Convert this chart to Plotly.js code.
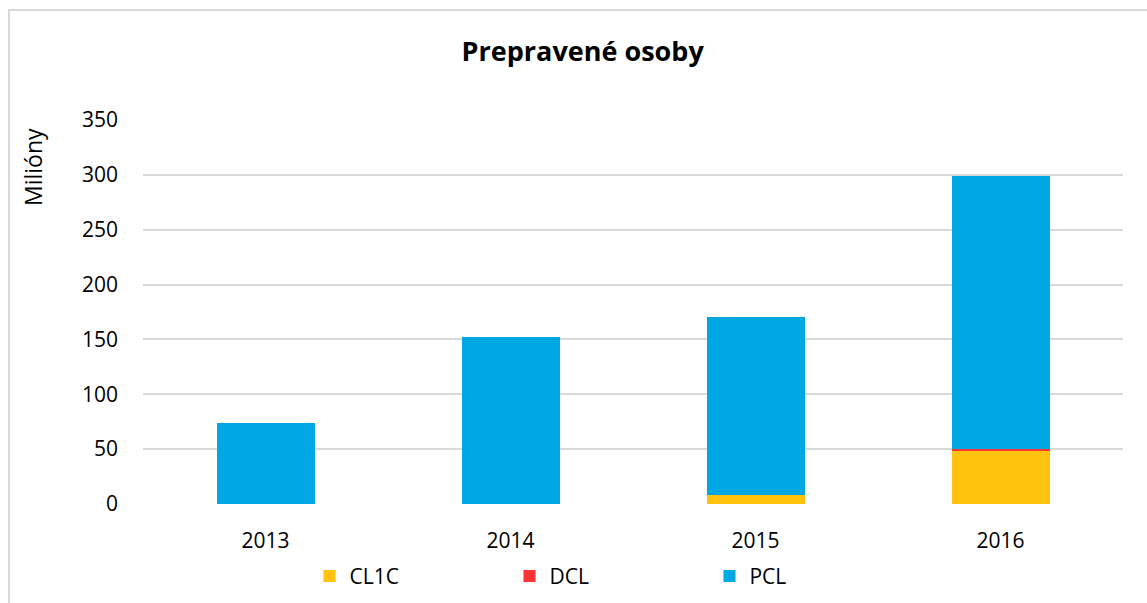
<!DOCTYPE html>
<html>
<head>
<meta charset="utf-8">
<script src="https://cdn.plot.ly/plotly-3.0.1.min.js"></script>
<style>
  html, body { margin: 0; padding: 0; background: #ffffff; }
  #frame { position: absolute; left: 8px; top: 9px; width: 1150px; height: 610px;
           border-left: 2px solid #d9d9d9; border-top: 2px solid #d9d9d9; }
  #chart { position: absolute; left: 0; top: 0; width: 1147px; height: 603px; }
</style>
</head>
<body>
<div id="frame"></div>
<div id="chart"></div>
<script>
const years = ['2013', '2014', '2015', '2016'];
const cl1c = [0, 0, 8.5, 48.5];
const dcl  = [0, 0, 0, 1.8];
const pcl  = [74, 152, 161.5, 249];
const seriesNames = ['CL1C', 'DCL', 'PCL'];
const seriesColors = ['#FFC20E', '#FF3333', '#00A8E3'];
const yTicks = [0, 50, 100, 150, 200, 250, 300, 350];
const yTitle = 'Milióny';

const font = 'Open Sans, Noto Sans, sans-serif';
const values = [cl1c, dcl, pcl];
const traces = values.map((v, i) => ({
  type: 'bar', x: years, y: v, name: seriesNames[i],
  marker: { color: seriesColors[i], line: { width: 0 } },
  hoverinfo: 'x+y+name'
}));

const layout = {
  width: 1147, height: 603,
  barmode: 'stack', bargap: 0.6,
  paper_bgcolor: 'rgba(0,0,0,0)', plot_bgcolor: 'rgba(0,0,0,0)',
  margin: { l: 143, r: 24, t: 120, b: 99, autoexpand: false },
  font: { family: font, size: 21, color: '#000000' },
  title: { text: '<b>Prepravené osoby</b>', x: 0.508, xanchor: 'center', y: 0.915, yanchor: 'middle',
           font: { family: font, size: 27, color: '#000000' } },
  xaxis: { type: 'category', showgrid: false, zeroline: false, showline: false, automargin: false,
           ticks: '', tickfont: { size: 21 }, ticklabelstandoff: 22 },
  yaxis: { range: [0, 350], tickvals: yTicks, showgrid: true, gridcolor: '#d9d9d9', gridwidth: 2,
           zeroline: false, showline: false, ticks: '', ticklen: 0, tickfont: { size: 21 },
           ticklabelstandoff: 24, automargin: false },
  annotations: [{
    text: yTitle, textangle: -90, xref: 'paper', yref: 'paper',
    x: -0.113, y: 0.985, xanchor: 'center', yanchor: 'top', showarrow: false,
    font: { family: font, size: 23, color: '#000000' }
  }],
  legend: { orientation: 'h', x: 0.476, xanchor: 'center', y: -0.135, yanchor: 'top',
            entrywidth: 155, entrywidthmode: 'pixels', font: { size: 21 }, itemwidth: 30,
            traceorder: 'normal' },
  showlegend: true
};

Plotly.newPlot('chart', traces, layout, { displayModeBar: false, staticPlot: true });
</script>
</body>
</html>
